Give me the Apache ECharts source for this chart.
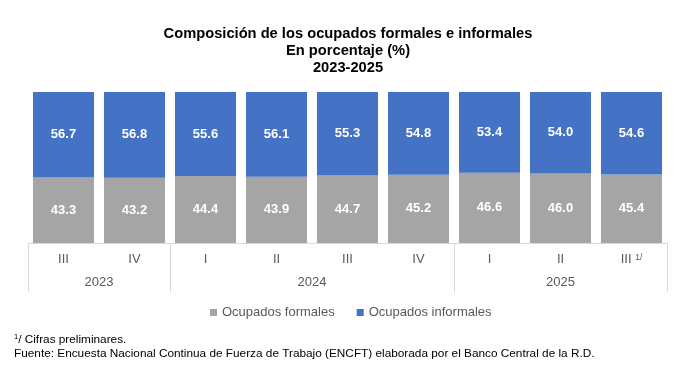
<!DOCTYPE html>
<html><head><meta charset="utf-8">
<script src="https://cdn.jsdelivr.net/npm/echarts@6/dist/echarts.min.js"></script>
<style>html,body{margin:0;padding:0;background:#fff}#c{width:683px;height:367px}</style>
</head><body><div id="c"></div>
<script>
const quarters = ['III','IV','I','II','III','IV','I','II','III'];
const years = ['2023','2024','2025'];
const quartersPerYear = [2,4,3];
const formales = [43.3,43.2,44.4,43.9,44.7,45.2,46.6,46.0,45.4];
const informales = [56.7,56.8,55.6,56.1,55.3,54.8,53.4,54.0,54.6];
const preliminaryIndex = 8;

// year axis built on half-quarter slots
const yearSlots = new Array(quarters.length * 2 + 1).fill('');
const boundarySlots = new Set([0]);
let start = 0;
quartersPerYear.forEach((n, i) => {
  yearSlots[start * 2 + n] = years[i];
  start += n;
  boundarySlots.add(start * 2);
});

const chart = echarts.init(document.getElementById('c'), null, {renderer: 'canvas'});
const FONT = 'Liberation Sans, Arial, sans-serif';
const lbl = {
  show: true, position: 'inside', color: '#fff', fontWeight: 'bold',
  fontSize: 13, fontFamily: FONT, formatter: p => p.value.toFixed(1)
};
chart.setOption({
  animation: false,
  textStyle: {fontFamily: FONT},
  title: [{
    text: 'Composición de los ocupados formales e informales\nEn porcentaje (%)\n2023-2025',
    left: 343, top: 20, textAlign: 'center', padding: 5,
    textStyle: {fontSize: 14.7, fontWeight: 'bold', color: '#000', lineHeight: 17, fontFamily: FONT}
  }, {
    text: '{sup|1}{n|/ Cifras preliminares.}\n{n|Fuente: Encuesta Nacional Continua de Fuerza de Trabajo (ENCFT) elaborada por el Banco Central de la R.D.}',
    left: 14, top: 333, padding: 0,
    textStyle: {
      fontSize: 11.8, fontWeight: 'normal', color: '#000', lineHeight: 13.5, fontFamily: FONT,
      rich: {
        sup: {fontSize: 7.5, verticalAlign: 'top', lineHeight: 13.5, padding: [0, 0, 4, 0], fontFamily: FONT},
        n: {fontSize: 11.8, lineHeight: 13.5, color: '#000', fontFamily: FONT}
      }
    }
  }],
  legend: {
    top: 301, left: 205, icon: 'rect', itemWidth: 7, itemHeight: 7, itemGap: 22,
    textStyle: {fontSize: 13, color: '#595959', fontFamily: FONT},
    data: ['Ocupados formales', 'Ocupados informales']
  },
  grid: {left: 28, right: 16, top: 92, bottom: 124},
  xAxis: [{
    type: 'category', data: quarters,
    axisLine: {lineStyle: {color: '#d9d9d9'}},
    axisTick: {show: false},
    axisLabel: {
      color: '#595959', fontSize: 13, margin: 10, interval: 0,
      formatter: (v, i) => i === preliminaryIndex ? v + ' {sup|1/}' : v,
      rich: {sup: {fontSize: 8.5, color: '#595959', verticalAlign: 'top', padding: [0, 0, 4, 0]}}
    }
  }, {
    type: 'category', position: 'bottom', boundaryGap: false,
    data: yearSlots.map((_, i) => 's' + i),
    axisLine: {show: false},
    axisTick: {show: true, length: 49, interval: i => boundarySlots.has(i), lineStyle: {color: '#d9d9d9'}},
    axisLabel: {
      color: '#595959', fontSize: 13, margin: 33,
      interval: i => yearSlots[i] !== '',
      formatter: (v, i) => yearSlots[i]
    }
  }],
  yAxis: {type: 'value', min: 0, max: 100, show: false},
  series: [{
    name: 'Ocupados formales', type: 'bar', stack: 't', data: formales,
    barCategoryGap: '14%', itemStyle: {color: '#A5A5A5'}, label: lbl
  }, {
    name: 'Ocupados informales', type: 'bar', stack: 't', data: informales,
    barCategoryGap: '14%', itemStyle: {color: '#4472C4'}, label: lbl
  }]
});
</script></body></html>
